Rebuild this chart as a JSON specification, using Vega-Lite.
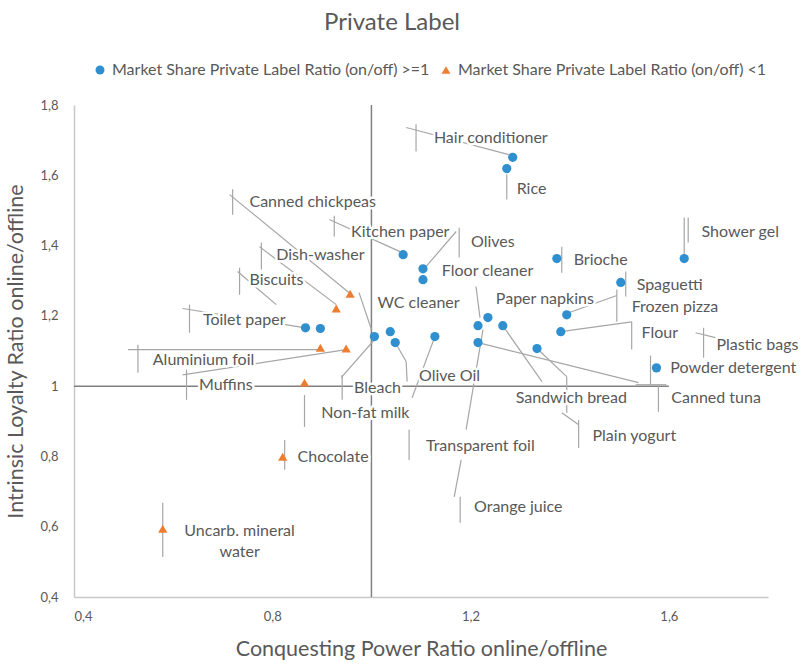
{
  "$schema": "https://vega.github.io/schema/vega-lite/v6.json",
  "width": 694,
  "height": 492,
  "autosize": {"type": "none"},
  "padding": {"left": 74, "top": 105, "right": 35, "bottom": 67},
  "background": "white",
  "config": {
    "view": {"stroke": null},
    "font": "Lato",
    "axis": {"labelFont": "Lato", "titleFont": "Lato", "labelColor": "#595959", "titleColor": "#595959", "grid": false, "ticks": false, "domainColor": "#c8c8c8", "domainWidth": 1.5, "labelFontSize": 13, "titleFontSize": 21.5, "titleFontWeight": "normal"}
  },
  "title": {"text": "Private Label", "fontSize": 24, "font": "Lato", "fontWeight": "normal", "color": "#595959", "anchor": "middle", "dx": -29, "offset": 27},
  "datasets": {
    "refs": [
      {"x": 1, "y": 0.4, "x2": 1, "y2": 1.8},
      {"x": 0.4, "y": 1, "x2": 1.6, "y2": 1}
    ],
    "leaders": [
      {"x": 1.070, "y": 1.736, "x2": 1.277, "y2": 1.659},
      {"x": 1.090, "y": 1.745, "x2": 1.090, "y2": 1.668},
      {"x": 1.273, "y": 1.602, "x2": 1.273, "y2": 1.531},
      {"x": 0.714, "y": 1.545, "x2": 0.955, "y2": 1.266},
      {"x": 0.720, "y": 1.560, "x2": 0.720, "y2": 1.488},
      {"x": 0.915, "y": 1.474, "x2": 1.062, "y2": 1.380},
      {"x": 0.925, "y": 1.485, "x2": 0.925, "y2": 1.426},
      {"x": 1.110, "y": 1.340, "x2": 1.171, "y2": 1.440},
      {"x": 1.177, "y": 1.451, "x2": 1.177, "y2": 1.366},
      {"x": 1.631, "y": 1.374, "x2": 1.631, "y2": 1.480},
      {"x": 1.639, "y": 1.480, "x2": 1.639, "y2": 1.409},
      {"x": 1.384, "y": 1.397, "x2": 1.384, "y2": 1.323},
      {"x": 1.513, "y": 1.326, "x2": 1.513, "y2": 1.255},
      {"x": 1.398, "y": 1.209, "x2": 1.495, "y2": 1.258},
      {"x": 1.495, "y": 1.275, "x2": 1.495, "y2": 1.183},
      {"x": 1.382, "y": 1.155, "x2": 1.525, "y2": 1.183},
      {"x": 1.525, "y": 1.183, "x2": 1.525, "y2": 1.104},
      {"x": 1.654, "y": 1.152, "x2": 1.694, "y2": 1.138},
      {"x": 1.670, "y": 1.166, "x2": 1.670, "y2": 1.081},
      {"x": 1.563, "y": 1.087, "x2": 1.563, "y2": 1.004},
      {"x": 1.579, "y": 1.004, "x2": 1.579, "y2": 0.927},
      {"x": 1.215, "y": 1.124, "x2": 1.539, "y2": 1.010},
      {"x": 1.533, "y": 1.004, "x2": 1.595, "y2": 1.004},
      {"x": 1.334, "y": 1.107, "x2": 1.394, "y2": 1.027},
      {"x": 1.394, "y": 1.027, "x2": 1.394, "y2": 0.924},
      {"x": 1.384, "y": 0.924, "x2": 1.418, "y2": 0.890},
      {"x": 1.418, "y": 0.904, "x2": 1.418, "y2": 0.824},
      {"x": 1.265, "y": 1.172, "x2": 1.344, "y2": 1.013},
      {"x": 1.225, "y": 1.161, "x2": 1.191, "y2": 0.876},
      {"x": 1.211, "y": 1.283, "x2": 1.219, "y2": 1.195},
      {"x": 1.048, "y": 1.124, "x2": 1.070, "y2": 1.070},
      {"x": 1.070, "y": 1.070, "x2": 1.072, "y2": 1.013},
      {"x": 1.128, "y": 1.141, "x2": 1.082, "y2": 0.967},
      {"x": 1.076, "y": 0.876, "x2": 1.076, "y2": 0.790},
      {"x": 0.939, "y": 1.024, "x2": 1.006, "y2": 1.132},
      {"x": 0.941, "y": 1.032, "x2": 0.941, "y2": 0.961},
      {"x": 0.975, "y": 1.266, "x2": 1.0, "y2": 1.161},
      {"x": 0.619, "y": 1.221, "x2": 0.867, "y2": 1.166},
      {"x": 0.633, "y": 1.232, "x2": 0.633, "y2": 1.152},
      {"x": 0.509, "y": 1.104, "x2": 0.895, "y2": 1.104},
      {"x": 0.529, "y": 1.118, "x2": 0.529, "y2": 1.038},
      {"x": 0.619, "y": 1.032, "x2": 0.949, "y2": 1.104},
      {"x": 0.627, "y": 1.047, "x2": 0.627, "y2": 0.961},
      {"x": 0.865, "y": 0.975, "x2": 0.865, "y2": 0.884},
      {"x": 0.730, "y": 1.326, "x2": 0.808, "y2": 1.232},
      {"x": 0.734, "y": 1.337, "x2": 0.734, "y2": 1.260},
      {"x": 0.774, "y": 1.397, "x2": 0.929, "y2": 1.232},
      {"x": 0.778, "y": 1.409, "x2": 0.778, "y2": 1.332},
      {"x": 0.825, "y": 0.847, "x2": 0.825, "y2": 0.762},
      {"x": 0.579, "y": 0.668, "x2": 0.579, "y2": 0.514},
      {"x": 1.181, "y": 0.790, "x2": 1.167, "y2": 0.685},
      {"x": 1.179, "y": 0.685, "x2": 1.179, "y2": 0.611}
    ],
    "points": [
      {"name": "Hair conditioner", "x": 1.285, "y": 1.651, "group": "Market Share Private Label Ratio (on/off) >=1"},
      {"name": "Rice", "x": 1.273, "y": 1.619, "group": "Market Share Private Label Ratio (on/off) >=1"},
      {"name": "Kitchen paper", "x": 1.064, "y": 1.374, "group": "Market Share Private Label Ratio (on/off) >=1"},
      {"name": "Olives", "x": 1.104, "y": 1.334, "group": "Market Share Private Label Ratio (on/off) >=1"},
      {"name": "Floor cleaner", "x": 1.104, "y": 1.303, "group": "Market Share Private Label Ratio (on/off) >=1"},
      {"name": "Brioche", "x": 1.374, "y": 1.363, "group": "Market Share Private Label Ratio (on/off) >=1"},
      {"name": "Shower gel", "x": 1.631, "y": 1.363, "group": "Market Share Private Label Ratio (on/off) >=1"},
      {"name": "Spaguetti", "x": 1.503, "y": 1.295, "group": "Market Share Private Label Ratio (on/off) >=1"},
      {"name": "Frozen pizza", "x": 1.394, "y": 1.203, "group": "Market Share Private Label Ratio (on/off) >=1"},
      {"name": "Flour", "x": 1.382, "y": 1.155, "group": "Market Share Private Label Ratio (on/off) >=1"},
      {"name": "Powder detergent", "x": 1.575, "y": 1.052, "group": "Market Share Private Label Ratio (on/off) >=1"},
      {"name": "Toilet paper", "x": 0.867, "y": 1.166, "group": "Market Share Private Label Ratio (on/off) >=1"},
      {"name": "Biscuits", "x": 0.897, "y": 1.164, "group": "Market Share Private Label Ratio (on/off) >=1"},
      {"name": "Bleach", "x": 1.006, "y": 1.141, "group": "Market Share Private Label Ratio (on/off) >=1"},
      {"name": "WC cleaner", "x": 1.038, "y": 1.155, "group": "Market Share Private Label Ratio (on/off) >=1"},
      {"name": "Olive Oil", "x": 1.048, "y": 1.124, "group": "Market Share Private Label Ratio (on/off) >=1"},
      {"name": "Non-fat milk", "x": 1.128, "y": 1.141, "group": "Market Share Private Label Ratio (on/off) >=1"},
      {"name": "Transparent foil", "x": 1.215, "y": 1.172, "group": "Market Share Private Label Ratio (on/off) >=1"},
      {"name": "Paper napkins", "x": 1.235, "y": 1.195, "group": "Market Share Private Label Ratio (on/off) >=1"},
      {"name": "Sandwich bread", "x": 1.265, "y": 1.172, "group": "Market Share Private Label Ratio (on/off) >=1"},
      {"name": "Canned tuna", "x": 1.215, "y": 1.124, "group": "Market Share Private Label Ratio (on/off) >=1"},
      {"name": "Plain yogurt", "x": 1.334, "y": 1.107, "group": "Market Share Private Label Ratio (on/off) >=1"},
      {"name": "Canned chickpeas", "x": 0.957, "y": 1.263, "group": "Market Share Private Label Ratio (on/off) <1"},
      {"name": "Dish-washer", "x": 0.929, "y": 1.221, "group": "Market Share Private Label Ratio (on/off) <1"},
      {"name": "Aluminium foil", "x": 0.897, "y": 1.109, "group": "Market Share Private Label Ratio (on/off) <1"},
      {"name": "Muffins", "x": 0.949, "y": 1.107, "group": "Market Share Private Label Ratio (on/off) <1"},
      {"name": "Orange juice", "x": 0.865, "y": 1.010, "group": "Market Share Private Label Ratio (on/off) <1"},
      {"name": "Chocolate", "x": 0.821, "y": 0.799, "group": "Market Share Private Label Ratio (on/off) <1"},
      {"name": "Uncarb. mineral water", "x": 0.579, "y": 0.594, "group": "Market Share Private Label Ratio (on/off) <1"}
    ],
    "labels": [
      {"label": "Hair conditioner", "x": 1.126, "y": 1.705},
      {"label": "Rice", "x": 1.293, "y": 1.560},
      {"label": "Canned chickpeas", "x": 0.754, "y": 1.523},
      {"label": "Kitchen paper", "x": 0.959, "y": 1.440},
      {"label": "Olives", "x": 1.201, "y": 1.409},
      {"label": "Shower gel", "x": 1.666, "y": 1.440},
      {"label": "Dish-washer", "x": 0.808, "y": 1.374},
      {"label": "Brioche", "x": 1.408, "y": 1.360},
      {"label": "Floor cleaner", "x": 1.142, "y": 1.329},
      {"label": "Biscuits", "x": 0.754, "y": 1.303},
      {"label": "Spaguetti", "x": 1.535, "y": 1.289},
      {"label": "WC cleaner", "x": 1.012, "y": 1.238},
      {"label": "Paper napkins", "x": 1.251, "y": 1.249},
      {"label": "Frozen pizza", "x": 1.525, "y": 1.226},
      {"label": "Toilet paper", "x": 0.660, "y": 1.189},
      {"label": "Flour", "x": 1.545, "y": 1.152},
      {"label": "Plastic bags", "x": 1.696, "y": 1.118},
      {"label": "Aluminium foil", "x": 0.559, "y": 1.075},
      {"label": "Powder detergent", "x": 1.603, "y": 1.052},
      {"label": "Muffins", "x": 0.652, "y": 1.004},
      {"label": "Bleach", "x": 0.965, "y": 0.995},
      {"label": "Olive Oil", "x": 1.096, "y": 1.030},
      {"label": "Sandwich bread", "x": 1.291, "y": 0.967},
      {"label": "Canned tuna", "x": 1.605, "y": 0.967},
      {"label": "Non-fat milk", "x": 0.899, "y": 0.924},
      {"label": "Plain yogurt", "x": 1.446, "y": 0.859},
      {"label": "Chocolate", "x": 0.851, "y": 0.799},
      {"label": "Transparent foil", "x": 1.110, "y": 0.830},
      {"label": "Orange juice", "x": 1.207, "y": 0.656}
    ],
    "labels2": [
      {"label": "Uncarb. mineral\nwater", "x": 0.734, "y": 0.589}
    ]
  },
  "encoding": {
    "x": {"field": "x", "type": "quantitative", "scale": {"domain": [0.4, 1.8], "nice": false, "zero": false},
      "axis": {"title": "Conquesting Power Ratio online/offline", "values": [0.4, 0.8, 1.2, 1.6], "labelExpr": "replace(format(datum.value, '.1~f'), '.', ',')", "labelPadding": 13, "titlePadding": 15}},
    "y": {"field": "y", "type": "quantitative", "scale": {"domain": [0.4, 1.8], "nice": false, "zero": false},
      "axis": {"title": "Intrinsic Loyalty Ratio online/offline", "values": [0.4, 0.6, 0.8, 1, 1.2, 1.4, 1.6, 1.8], "labelExpr": "replace(format(datum.value, '.1~f'), '.', ',')", "labelPadding": 16, "titlePadding": 12}}
  },
  "layer": [
    {
      "data": {"name": "refs"},
      "mark": {"type": "rule", "color": "#808080", "strokeWidth": 1.5},
      "encoding": {"x2": {"field": "x2"}, "y2": {"field": "y2"}}
    },
    {
      "data": {"name": "leaders"},
      "mark": {"type": "rule", "color": "#a6a6a6", "strokeWidth": 1.2},
      "encoding": {"x2": {"field": "x2"}, "y2": {"field": "y2"}}
    },
    {
      "data": {"name": "labels"},
      "mark": {"type": "text", "align": "left", "baseline": "middle", "font": "Lato", "fontSize": 16, "fill": "white", "stroke": "white", "strokeWidth": 5, "strokeJoin": "round"},
      "encoding": {"text": {"field": "label"}}
    },
    {
      "data": {"name": "labels"},
      "mark": {"type": "text", "align": "left", "baseline": "middle", "font": "Lato", "fontSize": 16, "color": "#595959"},
      "encoding": {"text": {"field": "label"}}
    },
    {
      "data": {"name": "labels2"},
      "mark": {"type": "text", "align": "center", "baseline": "middle", "font": "Lato", "fontSize": 16, "color": "#595959", "lineBreak": "\n", "lineHeight": 21},
      "encoding": {"text": {"field": "label"}}
    },
    {
      "data": {"name": "points"},
      "mark": {"type": "point", "filled": true, "opacity": 1, "size": 85},
      "encoding": {
        "shape": {"field": "group", "type": "nominal",
          "scale": {"domain": ["Market Share Private Label Ratio (on/off) >=1", "Market Share Private Label Ratio (on/off) <1"], "range": ["circle", "triangle-up"]},
          "legend": {"title": null, "orient": "none", "legendX": 18, "legendY": -43, "direction": "horizontal", "labelFont": "Lato", "labelFontSize": 16, "labelColor": "#595959", "symbolSize": 80, "labelLimit": 0, "columnPadding": 8, "padding": 0}},
        "color": {"field": "group", "type": "nominal",
          "scale": {"domain": ["Market Share Private Label Ratio (on/off) >=1", "Market Share Private Label Ratio (on/off) <1"], "range": ["#2f8fcf", "#ed7d31"]},
          "legend": {"title": null, "orient": "none", "legendX": 18, "legendY": -43, "direction": "horizontal", "labelFont": "Lato", "labelFontSize": 16, "labelColor": "#595959", "symbolSize": 80, "labelLimit": 0, "columnPadding": 8, "padding": 0}}
      }
    }
  ]
}
